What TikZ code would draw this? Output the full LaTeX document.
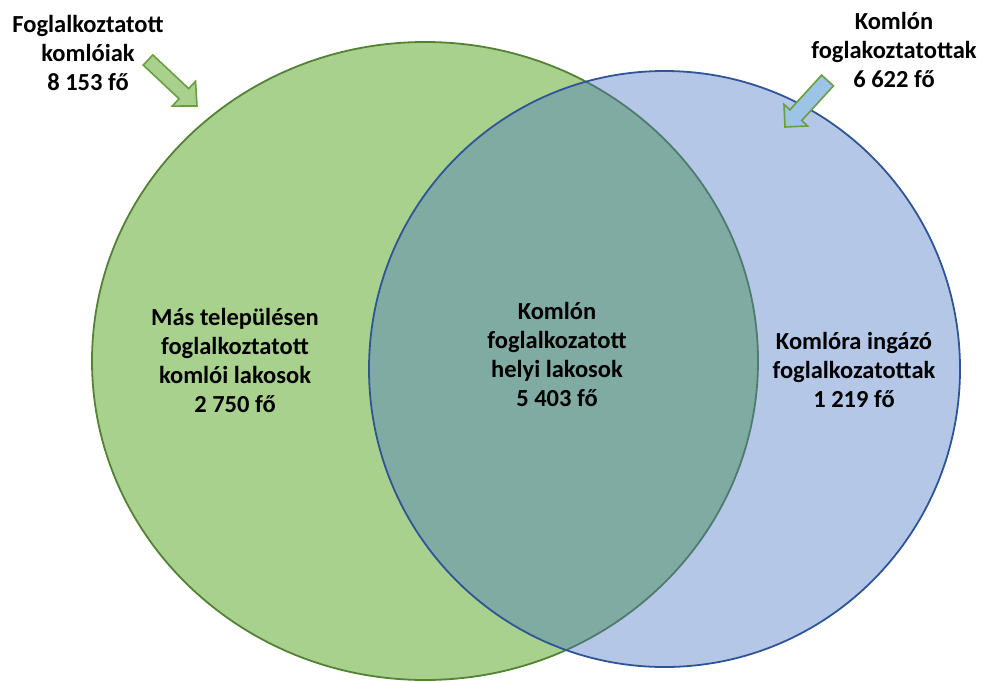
\documentclass[tikz,border=0pt]{standalone}
\usepackage{fontspec}
\setmainfont{Carlito}
\usetikzlibrary{calc}
\definecolor{gfill}{HTML}{A9D18E}
\definecolor{gline}{HTML}{548235}
\definecolor{bfill}{HTML}{4472C4}
\definecolor{bline}{HTML}{2F5597}
\definecolor{afill}{HTML}{9DC3E6}
\definecolor{aline}{HTML}{6A9E40}
\tikzset{
  lbl/.style={align=center, inner sep=0pt, font={\fontsize{24.5}{29}\selectfont\bfseries}, text=black},
  blockarrow/.style={draw=aline, line width=1.6pt, line join=miter},
}
\begin{document}
\begin{tikzpicture}[x=1pt,y=-1pt]
\useasboundingbox (0,0) rectangle (981,682);
\begin{scope}
\clip (0,0) rectangle (981,682);
% green ellipse
\draw[fill=gfill, draw=gline, line width=1.8pt] (425,361) ellipse [x radius=333, y radius=319];
% blue ellipse
\draw[fill=bfill, fill opacity=0.4, draw=bline, line width=1.8pt] (664.5,369) ellipse [x radius=295.5, y radius=298];
\end{scope}
% left block arrow
\coordinate (lt) at (148,60);
\coordinate (lp) at (197,106);
\coordinate (lb) at ($(lp)!18pt!(lt)$);
\coordinate (lx) at ($(lb)!-10pt!(lt)$);
\draw[blockarrow, fill=gfill]
  ($(lt)!7pt!90:(lb)$) -- ($(lb)!7pt!-90:(lt)$) -- ($(lb)!17pt!-90:(lt)$) -- (lp)
  -- ($(lb)!17pt!90:(lt)$) -- ($(lb)!7pt!90:(lt)$) -- ($(lt)!7pt!-90:(lb)$) -- cycle;
% right block arrow
\coordinate (rt) at (827.5,80.5);
\coordinate (rp) at (785,127);
\coordinate (rb) at ($(rp)!16pt!(rt)$);
\draw[blockarrow, fill=afill]
  ($(rt)!8pt!90:(rb)$) -- ($(rb)!8pt!-90:(rt)$) -- ($(rb)!16pt!-90:(rt)$) -- (rp)
  -- ($(rb)!16pt!90:(rt)$) -- ($(rb)!8pt!90:(rt)$) -- ($(rt)!8pt!-90:(rb)$) -- cycle;
% labels
\node[lbl] (tl) at (88,53) {Foglalkoztatott\\komlóiak\\8 153 fő};
\node[lbl] (tr) at (894,50) {Komlón\\foglakoztatottak\\6 622 fő};
\node[lbl] (ml) at (235,360) {Más településen\\foglalkoztatott\\komlói lakosok\\2 750 fő};
\node[lbl] (mc) at (557,354) {Komlón\\foglalkozatott\\helyi lakosok\\5 403 fő};
\node[lbl] (mr) at (854,370) {Komlóra ingázó\\foglalkozatottak\\1 219 fő};
\end{tikzpicture}
\end{document}
